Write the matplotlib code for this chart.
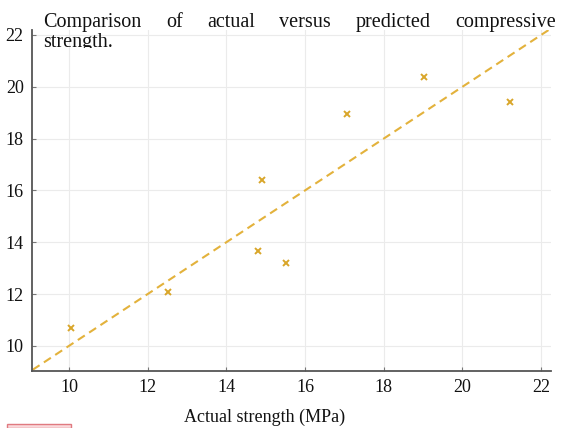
import numpy as np
import matplotlib
matplotlib.use("Agg")
import matplotlib.pyplot as plt
from matplotlib.patches import Rectangle
from matplotlib.transforms import Bbox

# actual vs predicted compressive strength (MPa)
actual = [10.05, 12.52, 14.8, 14.9, 15.52, 17.07, 19.03, 21.2]
predicted = [10.68, 12.08, 13.65, 16.42, 13.18, 18.96, 20.37, 19.42]
ticks = [10, 12, 14, 16, 18, 20, 22]
caption_words = ["Comparison", "of", "actual", "versus", "predicted", "compressive"]
caption_tail = "strength."
xlabel = "Actual strength (MPa)"

plt.rcParams["font.family"] = ["Liberation Serif", "DejaVu Serif"]
W, H = 573, 428
fig = plt.figure(figsize=(W / 100, H / 100), dpi=100)
ax = fig.add_axes([32 / W, 1 - 371 / H, (551 - 32) / W, (371 - 30) / H])

gold = "#d9a62a"
ref = np.array([8.5, 23.0])
ax.plot(ref, ref, ls=(0, (4, 2.5)), color="#e3b23c", lw=1.5, zorder=2)
ax.plot(actual, predicted, "x", color=gold, ms=4.5, mew=1.4, zorder=3)

ax.set_xlim(9.06, 22.25)
ax.set_ylim(9.03, 22.19)
ax.set_xticks(ticks)
ax.set_yticks(ticks)
ax.grid(True, color="#ebebeb", lw=0.8)
ax.set_axisbelow(True)
for s in ("top", "right"):
    ax.spines[s].set_visible(False)
for s in ("left", "bottom"):
    ax.spines[s].set_color("#555555")
    ax.spines[s].set_linewidth(1.3)
ax.tick_params(direction="in", length=3, width=0.8, color="#777777",
               labelsize=13, pad=6, labelcolor="#111111")

fig.text(265 / W, 1 - 417 / H, xlabel, fontsize=13, ha="center", va="center",
         color="#111111")

# justified caption over the plot
fs = 14.5
x0, x1, base = 43, 556, 27
fig.canvas.draw()
r = fig.canvas.get_renderer()
words = [fig.text(0, 1 - base / H, w, fontsize=fs, va="baseline", color="#111111")
         for w in caption_words]
widths = [t.get_window_extent(r).width for t in words]
gap = (x1 - x0 - sum(widths)) / (len(words) - 1)
pos = x0
for t, w in zip(words, widths):
    t.set_x(pos / W)
    pos += w + gap

tail = fig.text(x0 / W, 1 - 47 / H, caption_tail, fontsize=fs, va="baseline",
                color="#111111", zorder=5)
tail.set_clip_box(Bbox.from_extents(0, H - 48, W, H))
tail.set_clip_on(True)

# clipped pink box at bottom-left edge
fig.patches.append(Rectangle((7 / W, 0), 64 / W, 4.5 / H, transform=fig.transFigure,
                             facecolor="#f9d9dc", edgecolor="#e07a80", lw=1.0))

fig.savefig("out.png", dpi=100)
